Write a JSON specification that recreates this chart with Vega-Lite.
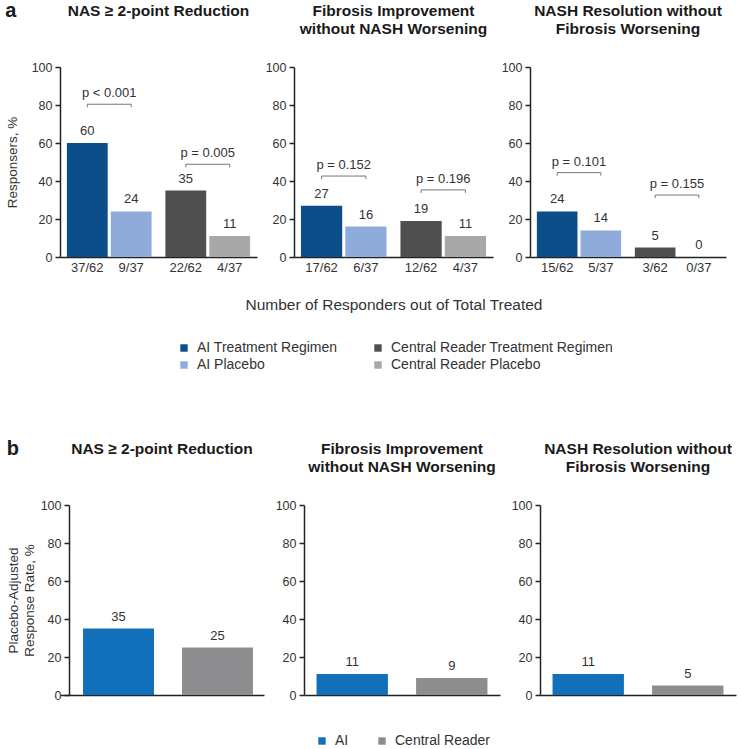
{
  "$schema": "https://vega.github.io/schema/vega-lite/v6.json",
  "padding": {"left": 5, "top": 0, "right": 5, "bottom": 3},
  "config": {
    "font": "Liberation Sans",
    "view": {"stroke": null},
    "title": {"fontSize": 15.5, "fontWeight": "bold", "color": "#1a1a1a", "anchor": "middle", "offset": 24, "lineHeight": 18},
    "axis": {"domainColor": "#222", "tickColor": "#222", "labelColor": "#333", "labelFontSize": 12.5, "titleFontSize": 13.5, "titleFontWeight": "normal", "titleColor": "#333", "grid": false, "domainWidth": 1.5, "tickWidth": 1.5, "labelOverlap": false},
    "axisY": {"tickSize": 5, "labelPadding": 3},
    "axisX": {"labels": false, "ticks": false, "title": null},
    "text": {"fontSize": 13, "color": "#333"},
    "legend": {"labelFontSize": 14, "labelColor": "#333", "symbolType": "square", "symbolSize": 55, "symbolStrokeWidth": 0, "labelOffset": 6, "labelLimit": 300}
  },
  "datasets": {
    "a": [
      {"panel": "NAS", "group": "AI", "arm": "Treatment", "series": "AI Treatment Regimen", "value": 60, "count": "37/62"},
      {"panel": "NAS", "group": "AI", "arm": "Placebo", "series": "AI Placebo", "value": 24, "count": "9/37"},
      {"panel": "NAS", "group": "Central Reader", "arm": "Treatment", "series": "Central Reader Treatment Regimen", "value": 35, "count": "22/62"},
      {"panel": "NAS", "group": "Central Reader", "arm": "Placebo", "series": "Central Reader Placebo", "value": 11, "count": "4/37"},
      {"panel": "Fib", "group": "AI", "arm": "Treatment", "series": "AI Treatment Regimen", "value": 27, "count": "17/62"},
      {"panel": "Fib", "group": "AI", "arm": "Placebo", "series": "AI Placebo", "value": 16, "count": "6/37"},
      {"panel": "Fib", "group": "Central Reader", "arm": "Treatment", "series": "Central Reader Treatment Regimen", "value": 19, "count": "12/62"},
      {"panel": "Fib", "group": "Central Reader", "arm": "Placebo", "series": "Central Reader Placebo", "value": 11, "count": "4/37"},
      {"panel": "NASH", "group": "AI", "arm": "Treatment", "series": "AI Treatment Regimen", "value": 24, "count": "15/62"},
      {"panel": "NASH", "group": "AI", "arm": "Placebo", "series": "AI Placebo", "value": 14, "count": "5/37"},
      {"panel": "NASH", "group": "Central Reader", "arm": "Treatment", "series": "Central Reader Treatment Regimen", "value": 5, "count": "3/62"},
      {"panel": "NASH", "group": "Central Reader", "arm": "Placebo", "series": "Central Reader Placebo", "value": 0, "count": "0/37"}
    ],
    "pa": [
      {"panel": "NAS", "group": "AI", "p": "p < 0.001", "y": 80.4},
      {"panel": "NAS", "group": "Central Reader", "p": "p = 0.005", "y": 48.8},
      {"panel": "Fib", "group": "AI", "p": "p = 0.152", "y": 42.6},
      {"panel": "Fib", "group": "Central Reader", "p": "p = 0.196", "y": 35.3},
      {"panel": "NASH", "group": "AI", "p": "p = 0.101", "y": 44.4},
      {"panel": "NASH", "group": "Central Reader", "p": "p = 0.155", "y": 32.6}
    ],
    "br": [
      {"panel": "NAS", "group": "AI", "arm": "Treatment", "y": 78.8, "ord": 1},
      {"panel": "NAS", "group": "AI", "arm": "Treatment", "y": 80.4, "ord": 2},
      {"panel": "NAS", "group": "AI", "arm": "Placebo", "y": 80.4, "ord": 3},
      {"panel": "NAS", "group": "AI", "arm": "Placebo", "y": 78.8, "ord": 4},
      {"panel": "NAS", "group": "Central Reader", "arm": "Treatment", "y": 47.2, "ord": 1},
      {"panel": "NAS", "group": "Central Reader", "arm": "Treatment", "y": 48.8, "ord": 2},
      {"panel": "NAS", "group": "Central Reader", "arm": "Placebo", "y": 48.8, "ord": 3},
      {"panel": "NAS", "group": "Central Reader", "arm": "Placebo", "y": 47.2, "ord": 4},
      {"panel": "Fib", "group": "AI", "arm": "Treatment", "y": 41.0, "ord": 1},
      {"panel": "Fib", "group": "AI", "arm": "Treatment", "y": 42.6, "ord": 2},
      {"panel": "Fib", "group": "AI", "arm": "Placebo", "y": 42.6, "ord": 3},
      {"panel": "Fib", "group": "AI", "arm": "Placebo", "y": 41.0, "ord": 4},
      {"panel": "Fib", "group": "Central Reader", "arm": "Treatment", "y": 33.7, "ord": 1},
      {"panel": "Fib", "group": "Central Reader", "arm": "Treatment", "y": 35.3, "ord": 2},
      {"panel": "Fib", "group": "Central Reader", "arm": "Placebo", "y": 35.3, "ord": 3},
      {"panel": "Fib", "group": "Central Reader", "arm": "Placebo", "y": 33.7, "ord": 4},
      {"panel": "NASH", "group": "AI", "arm": "Treatment", "y": 42.8, "ord": 1},
      {"panel": "NASH", "group": "AI", "arm": "Treatment", "y": 44.4, "ord": 2},
      {"panel": "NASH", "group": "AI", "arm": "Placebo", "y": 44.4, "ord": 3},
      {"panel": "NASH", "group": "AI", "arm": "Placebo", "y": 42.8, "ord": 4},
      {"panel": "NASH", "group": "Central Reader", "arm": "Treatment", "y": 31.0, "ord": 1},
      {"panel": "NASH", "group": "Central Reader", "arm": "Treatment", "y": 32.6, "ord": 2},
      {"panel": "NASH", "group": "Central Reader", "arm": "Placebo", "y": 32.6, "ord": 3},
      {"panel": "NASH", "group": "Central Reader", "arm": "Placebo", "y": 31.0, "ord": 4}
    ],
    "b": [
      {"panel": "NAS", "reader": "AI", "value": 35},
      {"panel": "NAS", "reader": "Central Reader", "value": 25},
      {"panel": "Fib", "reader": "AI", "value": 11},
      {"panel": "Fib", "reader": "Central Reader", "value": 9},
      {"panel": "NASH", "reader": "AI", "value": 11},
      {"panel": "NASH", "reader": "Central Reader", "value": 5}
    ]
  },
  "resolve": {"scale": {"color": "independent"}, "legend": {"color": "independent"}},
  "spacing": 66,
  "vconcat": [
    {
      "title": {"text": "a", "anchor": "start", "frame": "bounds", "fontSize": 20, "offset": -17},
      "bounds": "flush",
      "spacing": 37,
      "resolve": {"scale": {"xOffset": "independent"}},
      "hconcat": [
        {
          "width": 197, "height": 190,
          "title": {"text": ["NAS ≥ 2-point Reduction", " "]},
          "layer": [
            {"data": {"name": "a"}, "transform": [{"filter": "datum.panel === 'NAS'"}],
             "mark": {"type": "bar"},
             "encoding": {
               "x": {"field": "group", "type": "nominal", "sort": ["AI", "Central Reader"], "scale": {"paddingInner": 0.14, "paddingOuter": 0.07}},
               "xOffset": {"field": "arm", "type": "nominal", "sort": ["Treatment", "Placebo"], "scale": {"paddingInner": 0.07, "paddingOuter": 0}},
               "y": {"field": "value", "type": "quantitative", "scale": {"domain": [0, 100]}, "axis": {"title": "Responsers, %", "values": [0, 20, 40, 60, 80, 100], "titlePadding": 12}},
               "color": {"field": "series", "type": "nominal",
                 "scale": {"domain": ["AI Treatment Regimen", "AI Placebo", "Central Reader Treatment Regimen", "Central Reader Placebo"], "range": ["#0c4e8a", "#8eabd9", "#4f4f4f", "#a8a8a8"]},
                 "legend": {"title": null, "orient": "none", "legendX": 117, "legendY": 274, "columns": 2, "columnPadding": 33, "rowPadding": 3}}
             }},
            {"data": {"name": "a"}, "transform": [{"filter": "datum.panel === 'NAS'"}],
             "mark": {"type": "text", "baseline": "bottom", "dy": -5},
             "encoding": {
               "x": {"field": "group", "type": "nominal", "sort": ["AI", "Central Reader"]},
               "xOffset": {"field": "arm", "type": "nominal", "sort": ["Treatment", "Placebo"]},
               "y": {"field": "value", "type": "quantitative", "axis": {"title": "Responsers, %", "values": [0, 20, 40, 60, 80, 100], "titlePadding": 12}},
               "text": {"field": "value"}
             }},
            {"data": {"name": "a"}, "transform": [{"filter": "datum.panel === 'NAS'"}],
             "mark": {"type": "text", "baseline": "top", "dy": 5},
             "encoding": {
               "x": {"field": "group", "type": "nominal", "sort": ["AI", "Central Reader"]},
               "xOffset": {"field": "arm", "type": "nominal", "sort": ["Treatment", "Placebo"]},
               "y": {"datum": 0, "type": "quantitative", "axis": {"title": "Responsers, %", "values": [0, 20, 40, 60, 80, 100], "titlePadding": 12}},
               "text": {"field": "count"}
             }},
            {"data": {"name": "br"}, "transform": [{"filter": "datum.panel === 'NAS'"}],
             "mark": {"type": "line", "color": "#777", "strokeWidth": 1},
             "encoding": {
               "x": {"field": "group", "type": "nominal", "sort": ["AI", "Central Reader"]},
               "xOffset": {"field": "arm", "type": "nominal", "sort": ["Treatment", "Placebo"]},
               "y": {"field": "y", "type": "quantitative", "axis": {"title": "Responsers, %", "values": [0, 20, 40, 60, 80, 100], "titlePadding": 12}},
               "detail": {"field": "group"},
               "order": {"field": "ord"}
             }},
            {"data": {"name": "pa"}, "transform": [{"filter": "datum.panel === 'NAS'"}],
             "mark": {"type": "text", "baseline": "bottom", "dy": -4},
             "encoding": {
               "x": {"field": "group", "type": "nominal", "sort": ["AI", "Central Reader"]},
               "y": {"field": "y", "type": "quantitative", "axis": {"title": "Responsers, %", "values": [0, 20, 40, 60, 80, 100], "titlePadding": 12}},
               "text": {"field": "p"}
             }}
          ]
        },
        {
          "width": 199, "height": 190,
          "title": {"text": ["Fibrosis Improvement", "without NASH Worsening"]},
          "layer": [
            {"data": {"name": "a"}, "transform": [{"filter": "datum.panel === 'Fib'"}],
             "mark": {"type": "bar"},
             "encoding": {
               "x": {"field": "group", "type": "nominal", "sort": ["AI", "Central Reader"], "scale": {"paddingInner": 0.14, "paddingOuter": 0.07}, "axis": {"title": "Number of Responders out of Total Treated", "titlePadding": 40, "titleFontSize": 15.5}},
               "xOffset": {"field": "arm", "type": "nominal", "sort": ["Treatment", "Placebo"], "scale": {"paddingInner": 0.07, "paddingOuter": 0}},
               "y": {"field": "value", "type": "quantitative", "scale": {"domain": [0, 100]}, "axis": {"title": null, "values": [0, 20, 40, 60, 80, 100]}},
               "color": {"field": "series", "type": "nominal",
                 "scale": {"domain": ["AI Treatment Regimen", "AI Placebo", "Central Reader Treatment Regimen", "Central Reader Placebo"], "range": ["#0c4e8a", "#8eabd9", "#4f4f4f", "#a8a8a8"]}}
             }},
            {"data": {"name": "a"}, "transform": [{"filter": "datum.panel === 'Fib'"}],
             "mark": {"type": "text", "baseline": "bottom", "dy": -5},
             "encoding": {
               "x": {"field": "group", "type": "nominal", "sort": ["AI", "Central Reader"]},
               "xOffset": {"field": "arm", "type": "nominal", "sort": ["Treatment", "Placebo"]},
               "y": {"field": "value", "type": "quantitative", "axis": {"title": null, "values": [0, 20, 40, 60, 80, 100]}},
               "text": {"field": "value"}
             }},
            {"data": {"name": "a"}, "transform": [{"filter": "datum.panel === 'Fib'"}],
             "mark": {"type": "text", "baseline": "top", "dy": 5},
             "encoding": {
               "x": {"field": "group", "type": "nominal", "sort": ["AI", "Central Reader"]},
               "xOffset": {"field": "arm", "type": "nominal", "sort": ["Treatment", "Placebo"]},
               "y": {"datum": 0, "type": "quantitative", "axis": {"title": null, "values": [0, 20, 40, 60, 80, 100]}},
               "text": {"field": "count"}
             }},
            {"data": {"name": "br"}, "transform": [{"filter": "datum.panel === 'Fib'"}],
             "mark": {"type": "line", "color": "#777", "strokeWidth": 1},
             "encoding": {
               "x": {"field": "group", "type": "nominal", "sort": ["AI", "Central Reader"]},
               "xOffset": {"field": "arm", "type": "nominal", "sort": ["Treatment", "Placebo"]},
               "y": {"field": "y", "type": "quantitative", "axis": {"title": null, "values": [0, 20, 40, 60, 80, 100]}},
               "detail": {"field": "group"},
               "order": {"field": "ord"}
             }},
            {"data": {"name": "pa"}, "transform": [{"filter": "datum.panel === 'Fib'"}],
             "mark": {"type": "text", "baseline": "bottom", "dy": -4},
             "encoding": {
               "x": {"field": "group", "type": "nominal", "sort": ["AI", "Central Reader"]},
               "y": {"field": "y", "type": "quantitative", "axis": {"title": null, "values": [0, 20, 40, 60, 80, 100]}},
               "text": {"field": "p"}
             }}
          ]
        },
        {
          "width": 196, "height": 190,
          "title": {"text": ["NASH Resolution without", "Fibrosis Worsening"]},
          "layer": [
            {"data": {"name": "a"}, "transform": [{"filter": "datum.panel === 'NASH'"}],
             "mark": {"type": "bar"},
             "encoding": {
               "x": {"field": "group", "type": "nominal", "sort": ["AI", "Central Reader"], "scale": {"paddingInner": 0.14, "paddingOuter": 0.07}},
               "xOffset": {"field": "arm", "type": "nominal", "sort": ["Treatment", "Placebo"], "scale": {"paddingInner": 0.07, "paddingOuter": 0}},
               "y": {"field": "value", "type": "quantitative", "scale": {"domain": [0, 100]}, "axis": {"title": null, "values": [0, 20, 40, 60, 80, 100]}},
               "color": {"field": "series", "type": "nominal",
                 "scale": {"domain": ["AI Treatment Regimen", "AI Placebo", "Central Reader Treatment Regimen", "Central Reader Placebo"], "range": ["#0c4e8a", "#8eabd9", "#4f4f4f", "#a8a8a8"]}}
             }},
            {"data": {"name": "a"}, "transform": [{"filter": "datum.panel === 'NASH'"}],
             "mark": {"type": "text", "baseline": "bottom", "dy": -5},
             "encoding": {
               "x": {"field": "group", "type": "nominal", "sort": ["AI", "Central Reader"]},
               "xOffset": {"field": "arm", "type": "nominal", "sort": ["Treatment", "Placebo"]},
               "y": {"field": "value", "type": "quantitative", "axis": {"title": null, "values": [0, 20, 40, 60, 80, 100]}},
               "text": {"field": "value"}
             }},
            {"data": {"name": "a"}, "transform": [{"filter": "datum.panel === 'NASH'"}],
             "mark": {"type": "text", "baseline": "top", "dy": 5},
             "encoding": {
               "x": {"field": "group", "type": "nominal", "sort": ["AI", "Central Reader"]},
               "xOffset": {"field": "arm", "type": "nominal", "sort": ["Treatment", "Placebo"]},
               "y": {"datum": 0, "type": "quantitative", "axis": {"title": null, "values": [0, 20, 40, 60, 80, 100]}},
               "text": {"field": "count"}
             }},
            {"data": {"name": "br"}, "transform": [{"filter": "datum.panel === 'NASH'"}],
             "mark": {"type": "line", "color": "#777", "strokeWidth": 1},
             "encoding": {
               "x": {"field": "group", "type": "nominal", "sort": ["AI", "Central Reader"]},
               "xOffset": {"field": "arm", "type": "nominal", "sort": ["Treatment", "Placebo"]},
               "y": {"field": "y", "type": "quantitative", "axis": {"title": null, "values": [0, 20, 40, 60, 80, 100]}},
               "detail": {"field": "group"},
               "order": {"field": "ord"}
             }},
            {"data": {"name": "pa"}, "transform": [{"filter": "datum.panel === 'NASH'"}],
             "mark": {"type": "text", "baseline": "bottom", "dy": -4},
             "encoding": {
               "x": {"field": "group", "type": "nominal", "sort": ["AI", "Central Reader"]},
               "y": {"field": "y", "type": "quantitative", "axis": {"title": null, "values": [0, 20, 40, 60, 80, 100]}},
               "text": {"field": "p"}
             }}
          ]
        }
      ]
    },
    {
      "title": {"text": "b", "anchor": "start", "frame": "bounds", "fontSize": 20, "offset": -17},
      "bounds": "flush",
      "spacing": 40,
      "hconcat": [
        {
          "width": 204, "height": 190,
          "title": {"text": ["NAS ≥ 2-point Reduction", " "]},
          "data": {"name": "b"},
          "transform": [{"filter": "datum.panel === 'NAS'"}],
          "encoding": {
            "x": {"field": "reader", "type": "nominal", "scale": {"paddingInner": 0.283, "paddingOuter": 0.172, "align": 0.676}},
            "y": {"field": "value", "type": "quantitative", "scale": {"domain": [0, 100]}, "axis": {"title": ["Placebo-Adjusted", "Response Rate, %"], "values": [0, 20, 40, 60, 80, 100], "titlePadding": 4, "offset": -9}}
          },
          "layer": [
            {"mark": {"type": "bar"},
             "encoding": {"color": {"field": "reader", "type": "nominal", "scale": {"domain": ["AI", "Central Reader"], "range": ["#1170b9", "#8d8c8f"]},
               "legend": {"title": null, "orient": "none", "legendX": 255, "legendY": 229, "direction": "horizontal", "columnPadding": 26}}}},
            {"mark": {"type": "text", "baseline": "bottom", "dy": -5}, "encoding": {"text": {"field": "value"}}}
          ]
        },
        {
          "width": 196, "height": 190,
          "title": {"text": ["Fibrosis Improvement", "without NASH Worsening"]},
          "data": {"name": "b"},
          "transform": [{"filter": "datum.panel === 'Fib'"}],
          "encoding": {
            "x": {"field": "reader", "type": "nominal", "scale": {"paddingInner": 0.283, "paddingOuter": 0.126}},
            "y": {"field": "value", "type": "quantitative", "scale": {"domain": [0, 100]}, "axis": {"title": null, "values": [0, 20, 40, 60, 80, 100]}}
          },
          "layer": [
            {"mark": {"type": "bar"},
             "encoding": {"color": {"field": "reader", "type": "nominal", "scale": {"domain": ["AI", "Central Reader"], "range": ["#1170b9", "#8d8c8f"]}}}},
            {"mark": {"type": "text", "baseline": "bottom", "dy": -5}, "encoding": {"text": {"field": "value"}}}
          ]
        },
        {
          "width": 196, "height": 190,
          "title": {"text": ["NASH Resolution without", "Fibrosis Worsening"]},
          "data": {"name": "b"},
          "transform": [{"filter": "datum.panel === 'NASH'"}],
          "encoding": {
            "x": {"field": "reader", "type": "nominal", "scale": {"paddingInner": 0.283, "paddingOuter": 0.126}},
            "y": {"field": "value", "type": "quantitative", "scale": {"domain": [0, 100]}, "axis": {"title": null, "values": [0, 20, 40, 60, 80, 100]}}
          },
          "layer": [
            {"mark": {"type": "bar"},
             "encoding": {"color": {"field": "reader", "type": "nominal", "scale": {"domain": ["AI", "Central Reader"], "range": ["#1170b9", "#8d8c8f"]}}}},
            {"mark": {"type": "text", "baseline": "bottom", "dy": -5}, "encoding": {"text": {"field": "value"}}}
          ]
        }
      ]
    }
  ]
}
